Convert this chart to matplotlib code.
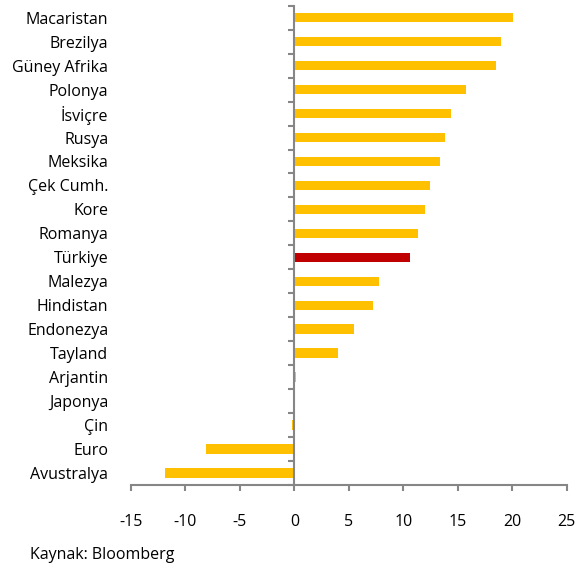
import matplotlib.pyplot as plt
import numpy as np

plt.rcParams['font.family'] = ['Open Sans', 'DejaVu Sans']
plt.rcParams['axes.unicode_minus'] = False

countries = ['Macaristan', 'Brezilya', 'Güney Afrika', 'Polonya', 'İsviçre', 'Rusya',
             'Meksika', 'Çek Cumh.', 'Kore', 'Romanya', 'Türkiye', 'Malezya',
             'Hindistan', 'Endonezya', 'Tayland', 'Arjantin', 'Japonya', 'Çin',
             'Euro', 'Avustralya']
values = [20.1, 18.95, 18.5, 15.7, 14.35, 13.8, 13.4, 12.4, 11.95, 11.3,
          10.65, 7.8, 7.2, 5.5, 4.0, 0.15, 0.0, -0.2, -8.15, -11.85]
highlight = 'Türkiye'

yellow = '#FFC000'
red = '#C00000'
grey = '#868686'

colors = [red if c == highlight else yellow for c in countries]
pos = np.arange(len(countries))

fig = plt.figure(figsize=(5.82, 5.70), dpi=100)
ax = fig.add_axes([0.225, 0.149, 0.749, 0.841])

ax.barh(pos, values, height=0.4, color=colors)

ax.set_xlim(-15, 25)
ax.set_ylim(len(countries) - 0.5, -0.5)
ax.set_xticks(np.arange(-15, 26, 5))

ax.spines['left'].set_position(('data', 0))
ax.spines['right'].set_visible(False)
ax.spines['top'].set_visible(False)
for s in ['left', 'bottom']:
    ax.spines[s].set_color(grey)
    ax.spines[s].set_linewidth(1.5)

fs = 11.5
# labels at bar centres, tick marks at the boundaries
ax.set_yticks(pos)
ax.set_yticklabels(countries)
ax.tick_params(axis='y', which='major', length=0, pad=134, labelsize=fs, colors='black')
ax.set_yticks(np.arange(-0.5, len(countries), 1), minor=True)
ax.tick_params(axis='y', which='minor', length=4, width=1.5, color=grey, direction='out')
ax.tick_params(axis='x', length=4, width=1.5, color=grey, pad=17, labelsize=fs,
               labelcolor='black')

fig.text(0.052, 0.026, 'Kaynak: Bloomberg', fontsize=fs, va='center', ha='left')

fig.savefig('out.png', dpi=100)
